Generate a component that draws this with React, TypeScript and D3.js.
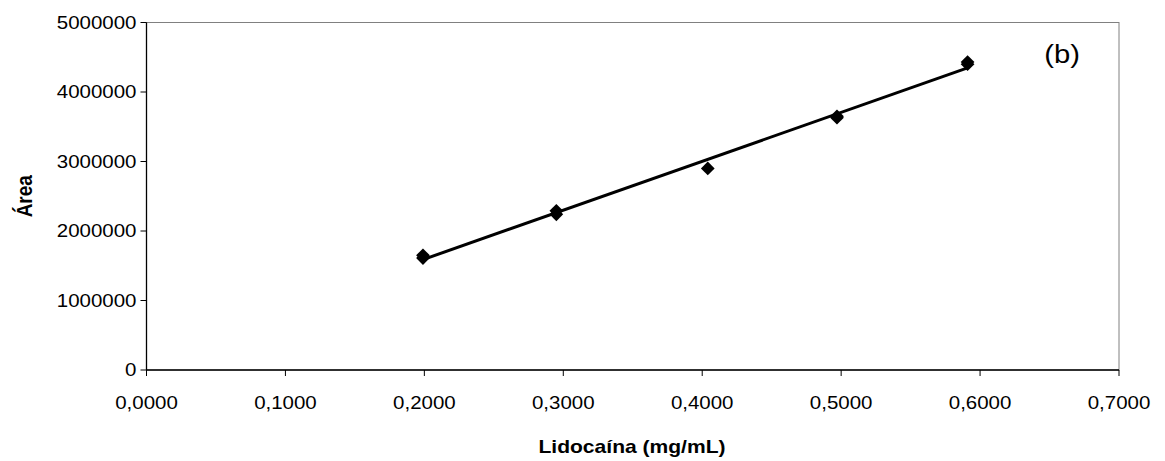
import React from "react";
import * as d3 from "d3";

// Calibration data: lidocaine concentration (mg/mL) vs. peak area
const concentrations = [0.199, 0.199, 0.295, 0.295, 0.404, 0.497, 0.497, 0.591, 0.591];
const areas = [1610000, 1650000, 2240000, 2290000, 2900000, 3630000, 3650000, 4400000, 4430000];
const xTicks = [0, 0.1, 0.2, 0.3, 0.4, 0.5, 0.6, 0.7];
const yTicks = [0, 1000000, 2000000, 3000000, 4000000, 5000000];

const W = 1165;
const H = 461;
const left = 146.5;
const right = 1119;
const top = 22.5;
const bottom = 370;
const SX = 1.17; // horizontal text stretch

type TProps = {
  x: number;
  y: number;
  size: number;
  anchor?: "start" | "middle" | "end";
  bold?: boolean;
  children: React.ReactNode;
};

function WideText({ x, y, size, anchor = "start", bold, children }: TProps) {
  return (
    <text
      transform={`translate(${x},${y}) scale(${SX},1)`}
      textAnchor={anchor}
      fontSize={size}
      fontWeight={bold ? "bold" : "normal"}
      fill="#000"
    >
      {children}
    </text>
  );
}

export default function App() {
  const x = d3.scaleLinear().domain([0, 0.7]).range([left, right]);
  const y = d3.scaleLinear().domain([0, 5000000]).range([bottom, top]);

  // Least-squares trend line across the data range
  const mx = d3.mean(concentrations)!;
  const my = d3.mean(areas)!;
  let sxy = 0, sxx = 0;
  concentrations.forEach((c, i) => {
    sxy += (c - mx) * (areas[i] - my);
    sxx += (c - mx) * (c - mx);
  });
  const slope = sxy / sxx;
  const intercept = my - slope * mx;
  const [x0, x1] = d3.extent(concentrations) as [number, number];
  const line = d3.line<number>().x((d) => x(d)).y((d) => y(slope * d + intercept));

  const diamond = d3.symbol().type(d3.symbolDiamond2).size(120)();
  const fmtX = (v: number) => v.toFixed(4).replace(".", ",");
  const font = "Liberation Sans, Arial, sans-serif";

  return (
    <svg width={W} height={H} style={{ position: "absolute", left: 0, top: 0, background: "#fff" }} fontFamily={font}>
      {/* plot frame */}
      <rect x={left} y={top} width={right - left} height={bottom - top} fill="none" stroke="#808080" strokeWidth={1} />
      <line x1={left} x2={left} y1={top} y2={bottom} stroke="#000" strokeWidth={1.3} />
      <line x1={left} x2={right} y1={bottom} y2={bottom} stroke="#000" strokeWidth={1.3} />

      {yTicks.map((t) => (
        <g key={t}>
          <line x1={left - 6} x2={left} y1={y(t)} y2={y(t)} stroke="#000" />
          <WideText x={left - 10} y={y(t) + 6.3} size={17.5} anchor="end">
            {t}
          </WideText>
        </g>
      ))}
      {xTicks.map((t) => (
        <g key={t}>
          <line x1={x(t)} x2={x(t)} y1={bottom} y2={bottom + 6} stroke="#000" />
          <WideText x={x(t)} y={409} size={17.5} anchor="middle">
            {fmtX(t)}
          </WideText>
        </g>
      ))}

      <path d={line([x0, x1]) ?? ""} fill="none" stroke="#000" strokeWidth={3} />
      {concentrations.map((c, i) => (
        <path key={i} d={diamond!} transform={`translate(${x(c)},${y(areas[i])})`} fill="#000" />
      ))}

      <WideText x={1062} y={63} size={25} anchor="middle">(b)</WideText>
      <WideText x={632} y={453} size={18} anchor="middle" bold>
        Lidocaína (mg/mL)
      </WideText>
      <text
        transform={`translate(32,${(top + bottom) / 2}) rotate(-90) scale(1,${SX})`}
        textAnchor="middle"
        fontSize={19}
        fontWeight="bold"
        fill="#000"
      >
        Área
      </text>
    </svg>
  );
}
